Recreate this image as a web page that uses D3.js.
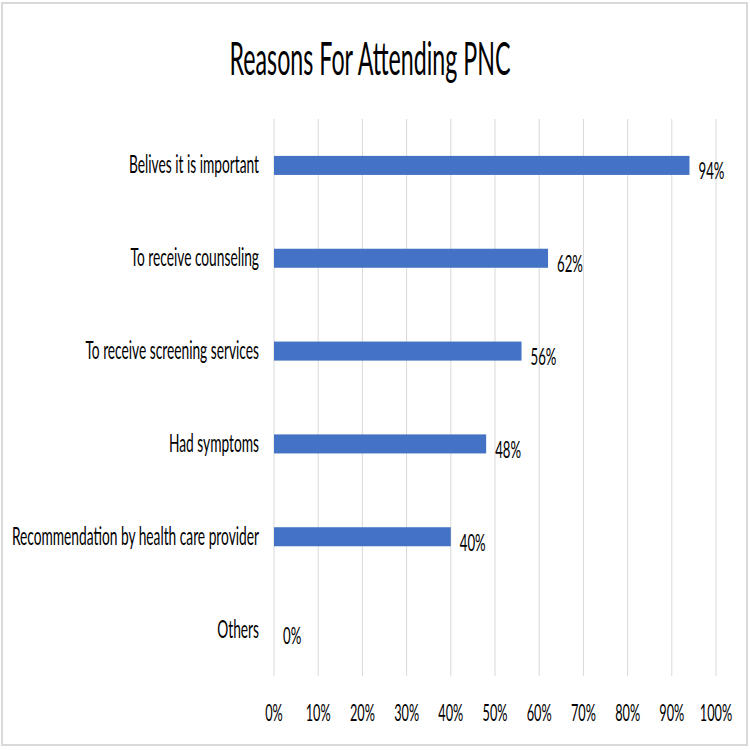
<!DOCTYPE html>
<html lang="en">
<head>
    <meta charset="UTF-8">
    <title>Reasons For Attending PNC</title>
    <script src="https://cdn.jsdelivr.net/npm/d3@7"></script>
    <style>
        body { margin: 0; background: #fff; }
        text { font-family: Lato, "Open Sans", sans-serif; fill: #000; }
        .grid line { stroke: #d9d9d9; stroke-width: 1; }
        .bar { fill: #4472c4; }
    </style>
</head>
<body>
<script>
    var width = 750, height = 750;
    var categories = ["Belives it is important", "To receive counseling", "To receive screening services",
        "Had symptoms", "Recommendation by health care provider", "Others"];
    var values = [94, 62, 56, 48, 40, 0];
    var ticks = [0, 10, 20, 30, 40, 50, 60, 70, 80, 90, 100];

    var plot = {left: 274, right: 716, top: 119, bottom: 676};

    var svg = d3.select("body").append("svg")
        .attr("width", width)
        .attr("height", height);

    // chart border
    svg.append("rect")
        .attr("x", 2).attr("y", 3)
        .attr("width", 745).attr("height", 742)
        .attr("fill", "#fff")
        .attr("stroke", "#d9d9d9")
        .attr("stroke-width", 2);

    var xScale = d3.scaleLinear().domain([0, 100]).range([plot.left, plot.right]);
    var yScale = d3.scaleBand().domain(categories).range([plot.top, plot.bottom]).paddingInner(0.795).paddingOuter(0.3975);

    // the text in the picture is squeezed sideways, so scale x down
    function label(x, y, str, size, anchor, sx) {
        return svg.append("text")
            .attr("transform", "translate(" + x + "," + y + ") scale(" + sx + ",1)")
            .attr("text-anchor", anchor)
            .style("font-size", size + "px")
            .text(str);
    }

    // gridlines
    svg.append("g").attr("class", "grid")
        .selectAll("line").data(ticks).enter().append("line")
        .attr("x1", function (d) { return xScale(d); })
        .attr("x2", function (d) { return xScale(d); })
        .attr("y1", plot.top)
        .attr("y2", plot.bottom);

    // bars
    svg.selectAll(".bar").data(values).enter().append("rect")
        .attr("class", "bar")
        .attr("x", xScale(0))
        .attr("y", function (d, i) { return yScale(categories[i]); })
        .attr("width", function (d) { return xScale(d) - xScale(0); })
        .attr("height", yScale.bandwidth());

    // category labels
    categories.forEach(function (c) {
        label(259, yScale(c) + yScale.bandwidth() / 2 + 8, c, 25, "end", 0.55);
    });

    // value labels
    values.forEach(function (v, i) {
        label(xScale(v) + 9, yScale(categories[i]) + yScale.bandwidth() / 2 + 14, v + "%", 24, "start", 0.55);
    });

    // tick labels
    ticks.forEach(function (t) {
        label(xScale(t), 721, t + "%", 24, "middle", 0.53);
    });

    // title
    label(370, 75, "Reasons For Attending PNC", 46, "middle", 0.505);
</script>
</body>
</html>
